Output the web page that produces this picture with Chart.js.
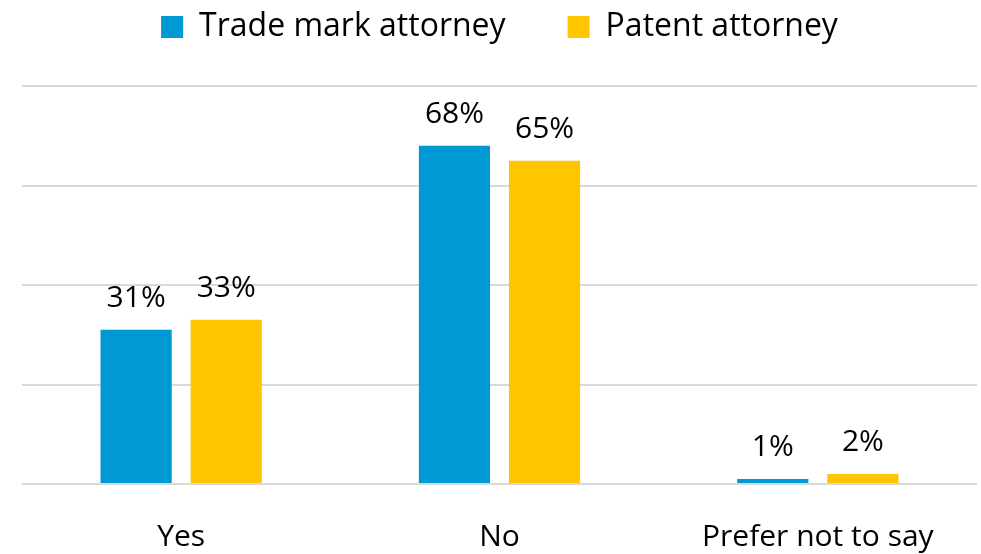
<!DOCTYPE html>
<html><head><meta charset="utf-8">
<script src="https://cdn.jsdelivr.net/npm/chart.js@4"></script>
<style>html,body{margin:0;padding:0;background:#fff}#wrap{width:981px;height:554px}</style>
</head><body><div id="wrap"><canvas id="c" width="981" height="554"></canvas></div>
<script>
const categories = ['Yes', 'No', 'Prefer not to say'];
const seriesNames = ['Trade mark attorney', 'Patent attorney'];
const tradeMark = [31, 68, 1];
const patent = [33, 65, 2];
const colors = ['#0099D3', '#FFC600'];
const FONT = "'Open Sans', 'Noto Sans', sans-serif";

const LEGEND_HEIGHT = 137;

const legendHeightFix = {
  id: 'legendHeightFix',
  beforeLayout(chart) {
    const lg = chart.legend;
    if (lg && !lg._patched) {
      const orig = lg.fit.bind(lg);
      lg.fit = function () { orig(); this.height = LEGEND_HEIGHT; };
      lg._patched = true;
    }
  }
};

const valueLabels = {
  id: 'valueLabels',
  afterDatasetsDraw(chart) {
    const ctx = chart.ctx;
    ctx.save();
    ctx.fillStyle = '#000';
    ctx.font = '30px ' + FONT;
    ctx.textAlign = 'center';
    ctx.textBaseline = 'alphabetic';
    chart.data.datasets.forEach((ds, i) => {
      chart.getDatasetMeta(i).data.forEach((bar, j) => {
        ctx.fillText(ds.data[j] + '%', bar.x, bar.y - 23);
      });
    });
    ctx.restore();
  }
};

new Chart(document.getElementById('c'), {
  type: 'bar',
  data: {
    labels: categories,
    datasets: [
      { label: seriesNames[0], data: tradeMark, backgroundColor: colors[0] },
      { label: seriesNames[1], data: patent, backgroundColor: colors[1] }
    ]
  },
  options: {
    responsive: false,
    animation: false,
    devicePixelRatio: 1,
    layout: { padding: { left: 22, right: 4, top: -51, bottom: 0 } },
    datasets: { bar: { categoryPercentage: 0.566, barPercentage: 0.79 } },
    plugins: {
      legend: {
        position: 'top',
        labels: { font: { size: 32, family: FONT }, color: '#000', boxWidth: 22, boxHeight: 22, padding: 62 }
      },
      tooltip: { enabled: false }
    },
    scales: {
      x: {
        grid: { display: false, drawTicks: false },
        border: { display: false },
        ticks: { font: { size: 30, family: FONT }, color: '#000', padding: 35 },
        afterFit(scale) { scale.height = 70; }
      },
      y: {
        min: 0, max: 80,
        ticks: { display: false, stepSize: 20 },
        grid: { color: '#d9d9d9', lineWidth: 2, drawTicks: false },
        border: { display: false }
      }
    }
  },
  plugins: [legendHeightFix, valueLabels]
});
</script></body></html>
